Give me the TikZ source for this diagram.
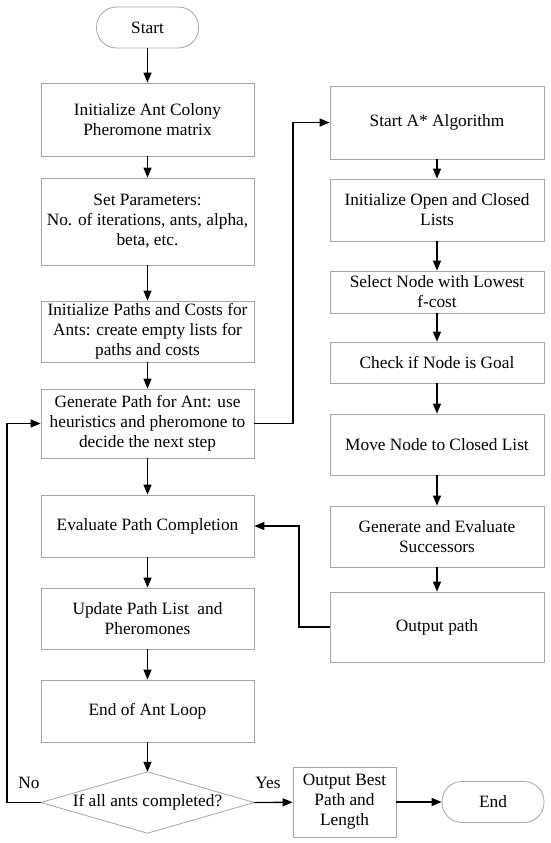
\documentclass[tikz,border=0pt]{standalone}
\usepackage{fontspec}
\setmainfont{Liberation Serif}
\usetikzlibrary{arrows.meta}
\newcommand\boxfont{\fontsize{17.3}{20}\selectfont}
\definecolor{boxgray}{RGB}{165,165,165}
\tikzset{
  box/.style={draw=boxgray, line width=0.8pt, inner sep=0pt, align=center, font=\boxfont},
  lbox/.style={box, minimum width=213pt},
  rbox/.style={box, minimum width=214pt},
  term/.style={box, rounded corners=20pt, minimum height=41pt, minimum width=102pt},
  arr/.style={-{Triangle[length=10pt,width=8pt]}, line width=1.3pt, black},
  lbl/.style={font=\boxfont, inner sep=0pt}
}
\begin{document}
\begin{tikzpicture}[x=1pt,y=-1pt]
\useasboundingbox (0,0) rectangle (550,843);
% left column
\node[term] (start) at (147.5,27.5) {Start};
\node[lbox, minimum height=73pt] (b1) at (147.5,119.5) {Initialize Ant Colony\\Pheromone matrix};
\node[lbox, minimum height=87pt] (b2) at (147.5,221.5) {Set Parameters:\\No. of iterations, ants, alpha,\\beta, etc.};
\node[lbox, minimum height=61pt] (b3) at (147.5,331.5) {Initialize Paths and Costs for\\Ants: create empty lists for\\paths and costs};
\node[lbox, minimum height=69pt] (b4) at (147.5,423.5) {Generate Path for Ant: use\\heuristics and pheromone to\\decide the next step};
\node[lbox, minimum height=62pt] (b5) at (147.5,526) {Evaluate Path Completion};
\node[lbox, minimum height=61pt] (b6) at (147.5,618.5) {Update Path List\ \ and\\Pheromones};
\node[lbox, minimum height=62pt] (b7) at (147.5,711) {End of Ant Loop};
\node[minimum width=213pt, minimum height=61pt, inner sep=0pt, font=\boxfont] (d) at (147.5,802.5) {If all ants completed?};
\draw[boxgray, line width=0.8pt] (d.north) -- (d.east) -- (d.south) -- (d.west) -- cycle;
\node[box, minimum width=103pt, minimum height=70pt] (ob) at (344.5,802) {Output Best\\Path and\\Length};
\node[term] (end) at (493,802) {End};
% right column
\node[rbox, minimum height=73pt] (r1) at (437,122.5) {Start A* Algorithm};
\node[rbox, minimum height=62pt] (r2) at (437,210) {Initialize Open and Closed\\Lists};
\node[rbox, minimum height=42pt] (r3) at (437,292) {Select Node with Lowest\\f-cost};
\node[rbox, minimum height=41pt] (r4) at (437,362.5) {Check if Node is Goal};
\node[rbox, minimum height=61pt] (r5) at (437,444.5) {Move Node to Closed List};
\node[rbox, minimum height=61pt] (r6) at (437,536.5) {Generate and Evaluate\\Successors};
\node[rbox, minimum height=70pt] (r7) at (437,627) {Output path};
% coordinates for bends
\coordinate (c1) at (293,423.5);
\coordinate (c2) at (299,627);
\coordinate (c3) at (7,802.5);
% left arrows
\draw[arr] (start) -- (b1);
\draw[arr] (b1) -- (b2);
\draw[arr] (b2) -- (b3);
\draw[arr] (b3) -- (b4);
\draw[arr] (b4) -- (b5);
\draw[arr] (b5) -- (b6);
\draw[arr] (b6) -- (b7);
\draw[arr] (b7) -- (d.north);
\draw[arr] (d.east) -- (ob);
\draw[arr] (ob) -- (end);
% right arrows
\draw[arr] (r1) -- (r2);
\draw[arr] (r2) -- (r3);
\draw[arr] (r3) -- (r4);
\draw[arr] (r4) -- (r5);
\draw[arr] (r5) -- (r6);
\draw[arr] (r6) -- (r7);
% cross connectors
\draw[arr] (b4.east) -- (c1) |- (r1.west);
\draw[arr] (r7.west) -- (c2) |- (b5.east);
\draw[arr] (d.west) -- (c3) |- (b4.west);
% labels
\node[lbl] (no) at (29,783) {No};
\node[lbl] (yes) at (268,783) {Yes};
\end{tikzpicture}
\end{document}
